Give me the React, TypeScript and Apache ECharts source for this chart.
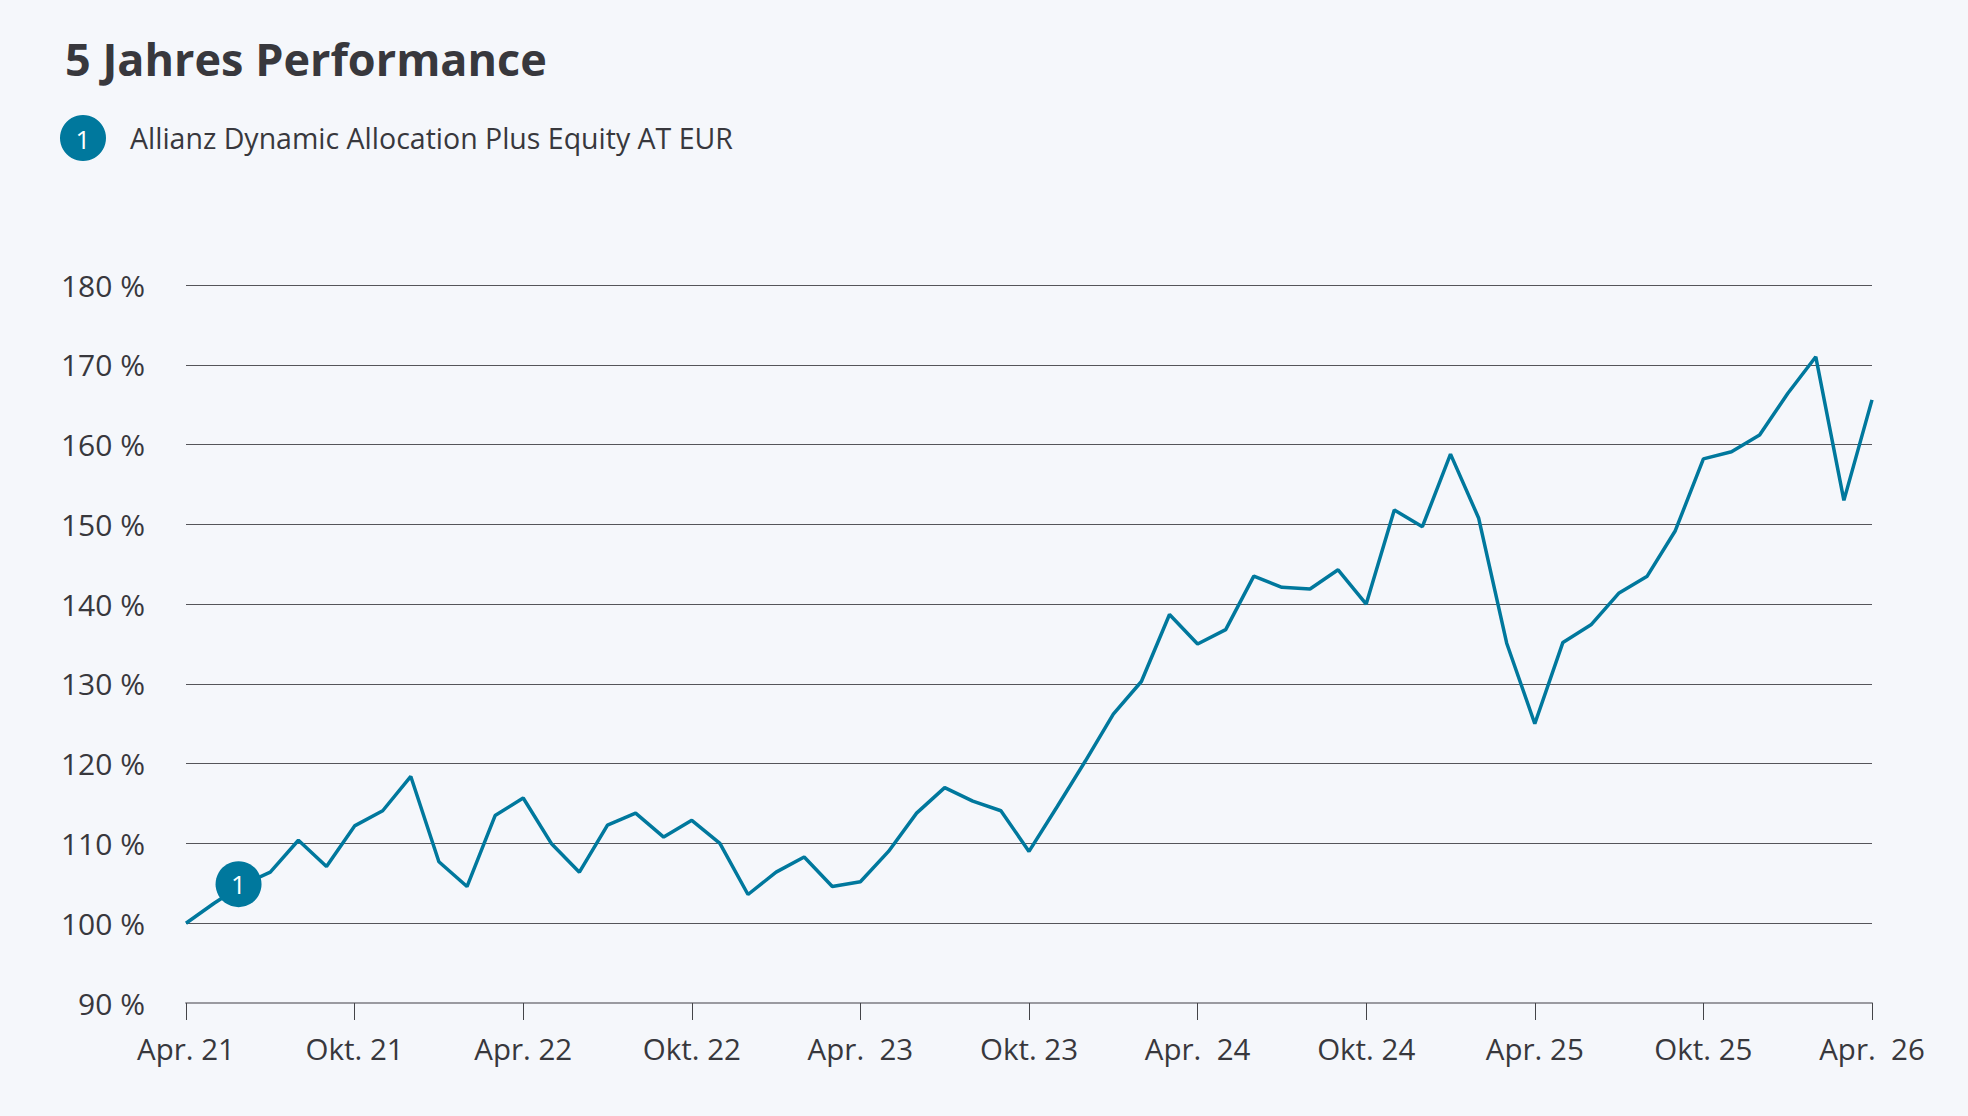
import React, { useEffect, useRef } from "react";
import * as echarts from "echarts";

const title = "5 Jahres Performance";
const seriesName = "Allianz Dynamic Allocation Plus Equity AT EUR";
const tickLabels = [
  "Apr. 21", "Okt. 21", "Apr. 22", "Okt. 22", "Apr.  23", "Okt. 23",
  "Apr.  24", "Okt. 24", "Apr. 25", "Okt. 25", "Apr.  26",
];
// monthly values, Apr 21 .. Apr 26
const performance = [
  100, 102.5, 104.8, 106.4, 110.4, 107.1, 112.2, 114.1, 118.4, 107.7,
  104.6, 113.5, 115.7, 110.0, 106.4, 112.3, 113.8, 110.8, 112.9, 110.0,
  103.6, 106.4, 108.3, 104.6, 105.2, 109.0, 113.8, 117.0, 115.3, 114.1,
  109.0, 114.6, 120.3, 126.2, 130.3, 138.7, 135.0, 136.8, 143.5, 142.1,
  141.9, 144.3, 140.0, 151.8, 149.7, 158.8, 150.8, 135.1, 125.0, 135.2,
  137.4, 141.4, 143.5, 149.2, 158.2, 159.1, 161.2, 166.4, 171.0, 153.0,
  165.6,
];
const markerPos = [1.87, 104.9];

const LINE = "#00789d";
const TEXT = "#38383d";
const FONT = "'Open Sans', Lato, sans-serif";

export default function App() {
  const ref = useRef<HTMLDivElement>(null);
  useEffect(() => {
    if (!ref.current) return;
    const chart = echarts.init(ref.current, undefined, { renderer: "svg" });
    chart.setOption({
      animation: false,
      backgroundColor: "#f5f7fb",
      textStyle: { fontFamily: FONT },
      title: {
        text: title,
        left: 60,
        top: 31,
        textStyle: { fontSize: 45, fontWeight: "bold", color: TEXT, fontFamily: FONT },
      },
      graphic: [
        {
          type: "circle",
          shape: { cx: 83, cy: 138, r: 23 },
          style: { fill: LINE },
        },
        {
          type: "text",
          x: 83,
          y: 139,
          style: {
            text: "1",
            fill: "#ffffff",
            fontSize: 26,
            fontFamily: FONT,
            align: "center",
            verticalAlign: "middle",
          },
        },
        {
          type: "text",
          x: 130,
          y: 138,
          style: {
            text: seriesName,
            fill: TEXT,
            fontSize: 28.5,
            fontFamily: FONT,
            align: "left",
            verticalAlign: "middle",
          },
        },
      ],
      grid: { left: 186, right: 96, top: 285, bottom: 113, containLabel: false },
      xAxis: {
        type: "value",
        min: 0,
        max: 60,
        interval: 6,
        axisLine: { show: true, lineStyle: { color: "#9a9aa0", width: 2 } },
        axisTick: { show: true, length: 17, lineStyle: { color: "#444448", width: 1 } },
        splitLine: { show: false },
        axisLabel: {
          margin: 30,
          fontSize: 29.5,
          color: TEXT,
          fontFamily: FONT,
          formatter: (v: number) => tickLabels[Math.round(v / 6)] ?? "",
        },
      },
      yAxis: {
        type: "value",
        min: 90,
        max: 180,
        interval: 10,
        axisLine: { show: false },
        axisTick: { show: false },
        splitLine: { show: true, lineStyle: { color: "#55555a", width: 1 } },
        axisLabel: {
          margin: 41,
          fontSize: 30,
          color: TEXT,
          fontFamily: FONT,
          formatter: (v: number) => `${v} %`,
        },
      },
      series: [
        {
          type: "line",
          name: seriesName,
          data: performance.map((v, i) => [i, v]),
          showSymbol: false,
          symbol: "none",
          lineStyle: { color: LINE, width: 3.5 },
          itemStyle: { color: LINE },
          markPoint: {
            symbol: "circle",
            symbolSize: 46,
            itemStyle: { color: LINE },
            label: {
              show: true,
              formatter: "1",
              color: "#ffffff",
              fontSize: 26,
              fontFamily: FONT,
            },
            data: [{ coord: markerPos }],
          },
        },
      ],
    });
    return () => chart.dispose();
  }, []);
  return (
    <div
      ref={ref}
      style={{ position: "absolute", left: 0, top: 0, width: 1968, height: 1116 }}
    />
  );
}
